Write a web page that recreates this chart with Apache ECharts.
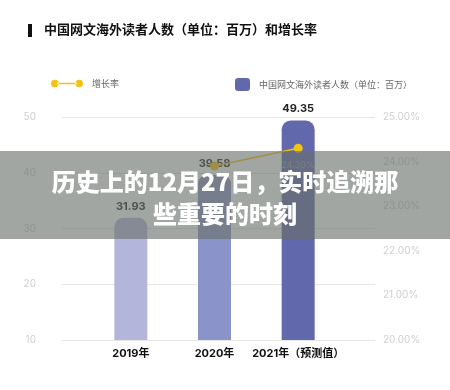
<!DOCTYPE html>
<html><head><meta charset="utf-8">
<script src="https://cdn.jsdelivr.net/npm/echarts@6/dist/echarts.min.js"></script>
<style>html,body{margin:0;padding:0;background:#fff}#c{width:450px;height:390px}</style>
</head><body><div id="c"></div>
<script>
var categories = ['2019年', '2020年', '2021年（预测值）'];
var readers = [31.93, 39.58, 49.35];
var growth = [null, 23.90, 24.30];
var barColors = ['#b3b5da', '#8b94c8', '#6168ac'];
var leftTicks = [10, 50, 10];
var rightTicks = [20, 25, 1];
var barName = '中国网文海外读者人数（单位：百万）';
var lineName = '增长率';
var titleText = '中国网文海外读者人数（单位：百万）和增长率';
var bannerLines = ['历史上的12月27日，实时追溯那', '些重要的时刻'];

var font = '"Noto Sans CJK SC", "Noto Sans", sans-serif';
var numFont = 'Inter, "Noto Sans CJK SC", sans-serif';
var chart = echarts.init(document.getElementById('c'), null, {renderer: 'canvas'});
chart.setOption({
  animation: false,
  textStyle: {fontFamily: font},
  legend: [
    {data: [lineName], left: 46, top: 74, itemWidth: 32, itemHeight: 9, itemGap: 0,
     icon: 'path://M0,5a5,5 0 1,0 10,0a5,5 0 1,0 -10,0zM32,5a5,5 0 1,0 10,0a5,5 0 1,0 -10,0zM8,4h26v2h-26z',
     textStyle: {color: '#666', fontSize: 9, padding: [0, 0, 0, 4]}},
    {data: [barName], left: 230, top: 73, itemWidth: 15, itemHeight: 13,
     icon: 'roundRect',
     textStyle: {color: '#666', fontSize: 9, padding: [0, 0, 0, 4]}}
  ],
  grid: [
    {left: 62, right: 75, top: 117, bottom: 50},
    {left: 89, right: 110, top: 117, bottom: 50}
  ],
  xAxis: [
    {type: 'value', gridIndex: 0, min: 0, max: 1, show: false},
    {type: 'category', gridIndex: 1, data: categories,
     axisLine: {show: false}, axisTick: {show: false},
     axisLabel: {interval: 0, color: '#111', fontWeight: 'bold', fontSize: 11, margin: 8, fontFamily: numFont}}
  ],
  yAxis: [
    {type: 'value', gridIndex: 0, min: leftTicks[0], max: leftTicks[1], interval: leftTicks[2],
     axisLine: {show: false}, axisTick: {show: false},
     axisLabel: {color: '#cfcfcf', fontSize: 10, margin: 26, fontFamily: numFont},
     splitLine: {lineStyle: {color: '#e6e6e6', width: 1}}},
    {type: 'value', gridIndex: 0, position: 'right', min: rightTicks[0], max: rightTicks[1], interval: rightTicks[2],
     axisLine: {show: false}, axisTick: {show: false}, splitLine: {show: false},
     axisLabel: {color: '#cfcfcf', fontSize: 10, margin: 8, fontFamily: numFont,
       formatter: function (v) { return v.toFixed(2) + '%'; }}},
    {type: 'value', gridIndex: 1, min: leftTicks[0], max: leftTicks[1], show: false},
    {type: 'value', gridIndex: 1, min: rightTicks[0], max: rightTicks[1], show: false}
  ],
  series: [
    {name: barName, type: 'bar', xAxisIndex: 1, yAxisIndex: 2, barWidth: 33,
     itemStyle: {color: barColors[2]},
     data: readers.map(function (v, i) {
       return {value: v, itemStyle: {color: barColors[i], borderRadius: [9, 9, 0, 0]}};
     }),
     label: {show: true, position: 'top', color: '#222', fontWeight: 'bold', fontSize: 11, distance: 6, fontFamily: numFont}},
    {name: lineName, type: 'line', xAxisIndex: 1, yAxisIndex: 3, data: growth,
     connectNulls: false, symbol: 'circle', symbolSize: 9,
     itemStyle: {color: '#f2c313'}, lineStyle: {color: '#f2c313', width: 1.5},
     label: {show: true, position: 'bottom', color: '#999', fontSize: 9, distance: 8, fontFamily: numFont,
       formatter: function (p) { return p.value.toFixed(2) + '%'; }}}
  ],
  graphic: [
    {type: 'rect', left: 28, top: 24, shape: {width: 4, height: 13}, style: {fill: '#111'}},
    {type: 'text', left: 44, top: 23, style: {text: titleText, fill: '#111', font: 'bold 13px ' + font}},
    {type: 'rect', left: 0, top: 151, z: 100, shape: {width: 450, height: 88}, style: {fill: 'rgba(105,112,105,0.62)'}},
    {type: 'text', z: 101, x: 225, y: 182, style: {text: bannerLines[0], fill: '#fff', align: 'center', verticalAlign: 'middle', font: '900 24px ' + font}},
    {type: 'text', z: 101, x: 225, y: 214, style: {text: bannerLines[1], fill: '#fff', align: 'center', verticalAlign: 'middle', font: '900 24px ' + font}}
  ]
});
</script></body></html>
